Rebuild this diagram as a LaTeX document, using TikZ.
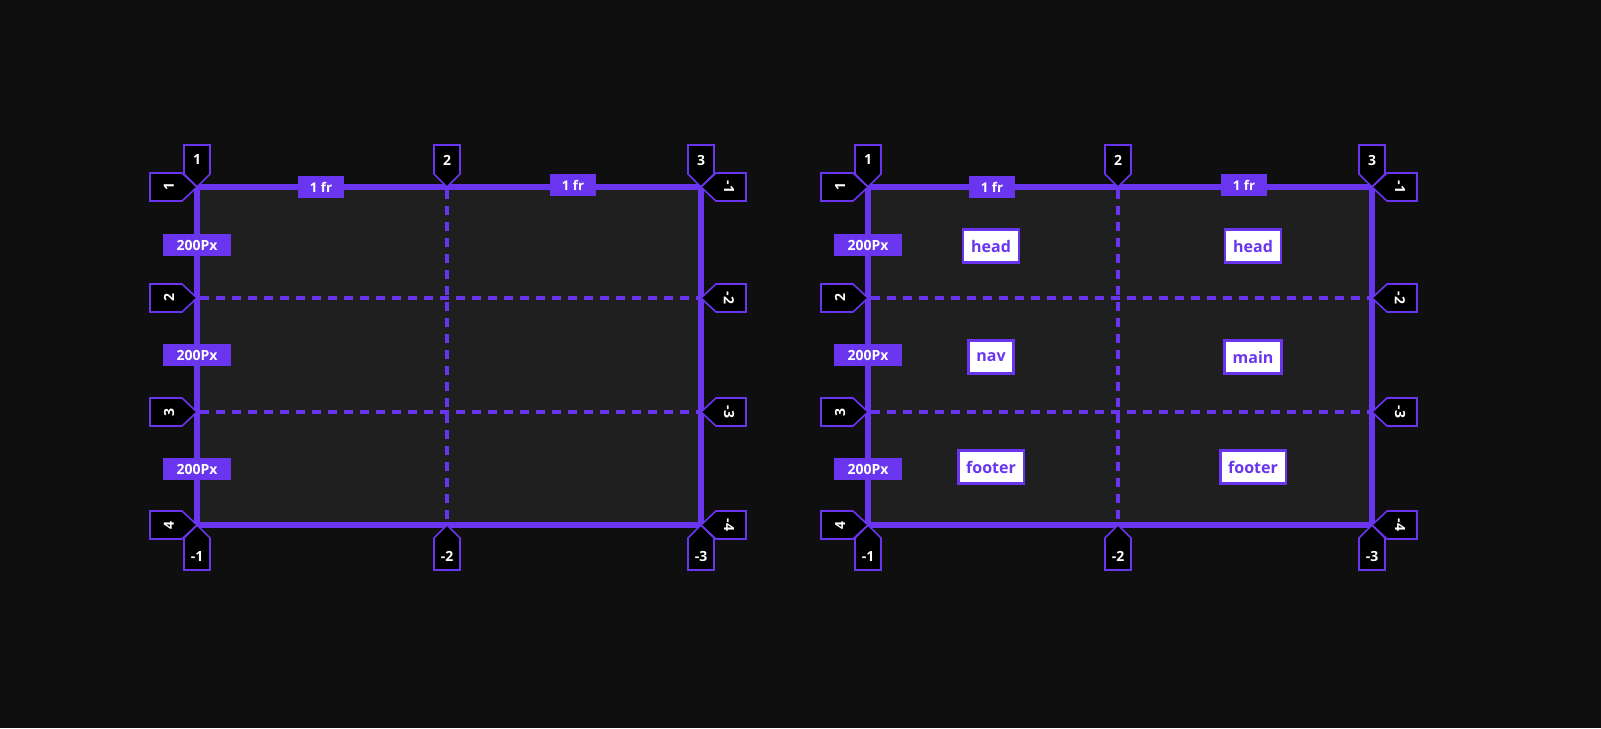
\documentclass[tikz,border=0pt]{standalone}
\usepackage{fontspec}
\setmainfont{Open Sans}
\definecolor{bg}{HTML}{0F0F0F}
\definecolor{panel}{HTML}{1F1F1F}
\definecolor{pur}{HTML}{6A35EE}
\newcommand{\tagT}[3]{\draw[tagst] (#1,#2) -- ++(-13,-13) -- ++(0,-29) -- ++(26,0) -- ++(0,29) -- cycle; \node[tagtxt] at (#1,#2-27) {#3};}
\newcommand{\tagB}[3]{\draw[tagst] (#1,#2) -- ++(13,13) -- ++(0,32) -- ++(-26,0) -- ++(0,-32) -- cycle; \node[tagtxt] at (#1,#2+31) {#3};}
\newcommand{\tagL}[3]{\draw[tagst] (#1,#2) -- ++(-15,-14) -- ++(-32,0) -- ++(0,28) -- ++(32,0) -- cycle; \node[tagtxt,rotate=90] at (#1-28,#2) {#3};}
\newcommand{\tagR}[3]{\draw[tagst] (#1,#2) -- ++(15,-14) -- ++(30,0) -- ++(0,28) -- ++(-30,0) -- cycle; \node[tagtxt,rotate=-90] at (#1+28,#2) {#3};}
\begin{document}
\begin{tikzpicture}[x=0.75pt,y=-0.75pt,
  tagst/.style={draw=pur,fill=black,line width=1.2pt,line join=miter},
  tagtxt/.style={text=white,font=\bfseries\fontsize{10.5}{12}\selectfont,inner sep=0pt},
  frlab/.style={fill=pur,text=white,font=\bfseries\fontsize{10}{12}\selectfont,minimum width=34pt,minimum height=16pt,inner sep=0pt},
  pxlab/.style={fill=pur,text=white,font=\bfseries\fontsize{10.5}{12}\selectfont,minimum width=51pt,minimum height=17pt,inner sep=0pt},
  area/.style={fill=white,draw=pur,line width=2pt,text=pur,font=\bfseries\fontsize{12}{13}\selectfont,minimum height=25pt,inner xsep=6pt,inner ysep=0pt},
  outer/.style={draw=pur,line width=5pt},
  dsh/.style={draw=pur,line width=2.3pt,dash pattern=on 7pt off 5pt}]
\fill[bg] (0,0) rectangle (1601,728);
\useasboundingbox (0,0) rectangle (1601,728);
\foreach \ox in {0,671}{
  \begin{scope}[xshift=\ox*0.75pt]
  \fill[panel] (197,187) rectangle (701,525);
  \draw[dsh] (447,190) -- (447,522);
  \draw[dsh] (200,298) -- (698,298);
  \draw[dsh] (200,412) -- (698,412);
  \draw[outer] (197,187) rectangle (701,525);
  \node[frlab] at (321,187) {1 fr};
  \node[frlab] at (573,185) {1 fr};
  \node[pxlab] at (197,245) {200Px};
  \node[pxlab] at (197,355) {200Px};
  \node[pxlab] at (197,469) {200Px};
  \tagT{197}{187}{1}\tagT{447}{187}{2}\tagT{701}{187}{3}
  \tagB{197}{525}{-1}\tagB{447}{525}{-2}\tagB{701}{525}{-3}
  \tagL{197}{187}{1}\tagL{197}{298}{2}\tagL{197}{412}{3}\tagL{197}{525}{4}
  \tagR{701}{187}{-1}\tagR{701}{298}{-2}\tagR{701}{412}{-3}\tagR{701}{525}{-4}
  \end{scope}}
\node[area] (h1) at (991,246) {head};
\node[area] (h2) at (1253,246) {head};
\node[area] (n1) at (991,357) {nav};
\node[area] (m1) at (1253,357) {main};
\node[area] (f1) at (991,467) {footer};
\node[area] (f2) at (1253,467) {footer};
\end{tikzpicture}
\end{document}
